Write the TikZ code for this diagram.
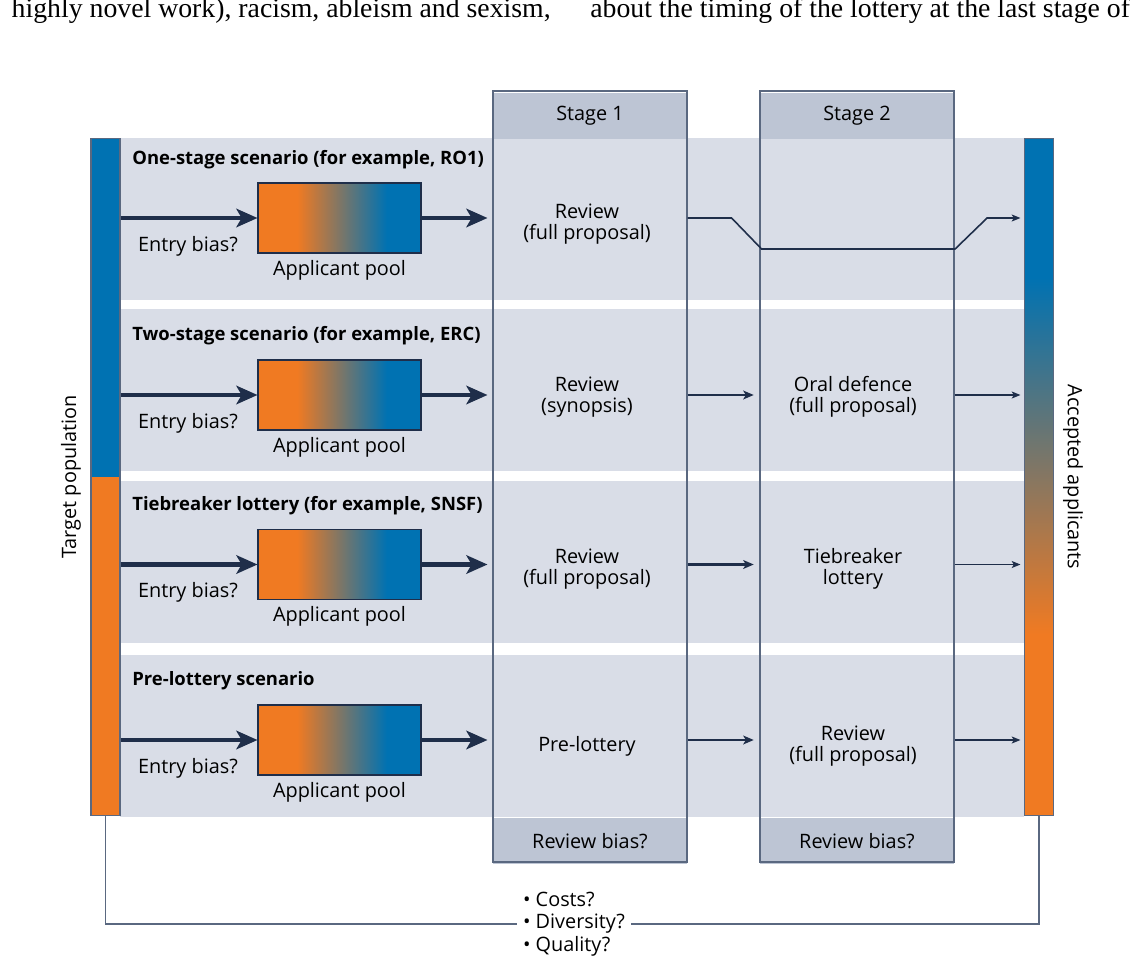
\documentclass[tikz,border=0pt]{standalone}
\usepackage{fontspec}
\setmainfont{Open Sans}
\newfontfamily\paperfont{Liberation Serif}
\usepackage{tikz}
\usetikzlibrary{arrows.meta}
\usetikzlibrary{positioning}

\definecolor{popblue}{RGB}{0,114,178}
\definecolor{poporange}{RGB}{240,122,34}
\definecolor{rowgrey}{RGB}{217,221,231}
\definecolor{headgrey}{RGB}{189,197,212}
\definecolor{navy}{RGB}{31,46,74}
\definecolor{edgegrey}{RGB}{90,104,128}

\pgfdeclarehorizontalshading{poolshade}{100bp}{color(0bp)=(poporange); color(37bp)=(poporange); color(64.5bp)=(popblue); color(100bp)=(popblue)}
\pgfdeclareverticalshading{acceptshade}{100bp}{color(0bp)=(poporange); color(38.4bp)=(poporange); color(64.7bp)=(popblue); color(100bp)=(popblue)}

\tikzset{
  txt/.style={font=\fontsize{11.3}{12}\selectfont, inner sep=0pt, text=black},
  title/.style={txt, font=\fontsize{10.5}{13}\selectfont\bfseries, anchor=west},
  pool/.style={draw=navy, line width=0.6pt, shade, shading=poolshade, minimum width=3.26cm, minimum height=1.4cm, inner sep=0pt},
  bar/.style={draw=edgegrey, line width=0.6pt, minimum width=0.58cm, minimum height=13.56cm, inner sep=0pt},
  column/.style={draw=edgegrey, line width=0.7pt, minimum width=3.88cm, minimum height=15.42cm, inner sep=0pt},
  stagehead/.style={txt, fill=headgrey, minimum width=3.88cm, minimum height=0.91cm},
  fatarrow/.style={navy, line width=2.6pt, -{Stealth[length=12pt,width=10.5pt,inset=3pt]}},
  midarrow/.style={navy, line width=1.2pt, -{Stealth[length=6pt,width=5pt,inset=1.5pt]}},
  thinarrow/.style={navy, line width=0.7pt, -{Stealth[length=5pt,width=4pt,inset=1.2pt]}},
}

\begin{document}
\begin{tikzpicture}[x=0.02cm,y=-0.02cm]
\useasboundingbox (0,0) rectangle (1130,967);
% cut-off line of the article above the figure
\begin{scope}
\clip (0,0) rectangle (1130,967);
\node[anchor=base east, inner sep=0pt, font=\paperfont\fontsize{15.8}{18}\selectfont] (papertxtl) at (551,17) {highly novel work), racism, ableism and sexism,};
\node[anchor=base west, inner sep=0pt, font=\paperfont\fontsize{15.8}{18}\selectfont] (papertxtr) at (590,17) {about the timing of the lottery at the last stage of t};
\end{scope}
% scenario bands
\foreach \top in {138,309,481,655} \fill[rowgrey] (120,\top) rectangle (1024,\top+162);
% stage headers and footers
\node[stagehead] (head1) at (590,116) {Stage 1};
\node[stagehead] (head2) at (857,116) {Stage 2};
\node[stagehead] (foot1) at (590,841) {Review bias?};
\node[stagehead] (foot2) at (857,841) {Review bias?};
\node[column] (stage1) at (590,476.5) {};
\node[column] (stage2) at (857,476.5) {};
% population bars
\node[bar, fill=popblue, path picture={\fill[poporange] (path picture bounding box.west) rectangle (path picture bounding box.south east);}] (target) at (105.5,477) {};
\node[bar, shade, shading=acceptshade] (accepted) at (1039,477) {};
\node[txt, rotate=90] (tgtlabel) at (71,477) {Target population};
\node[txt, rotate=-90] (acclabel) at (1073,477) {Accepted applicants};
% one row per scenario
\foreach \r/\y/\ty/\ya/\yb/\ttl/\sa/\sb in {1/218/159.5/224.5/224.5/{One-stage scenario (for example, RO1)}/{Review\\(full proposal)}/{},
    2/395/335.5/397/396.5/{Two-stage scenario (for example, ERC)}/{Review\\(synopsis)}/{Oral defence\\(full proposal)},
    3/564.5/505.5/569.5/569/{Tiebreaker lottery (for example, SNSF)}/{Review\\(full proposal)}/{Tiebreaker\\lottery},
    4/740/680.5/746/746/{Pre-lottery scenario}/{Pre-lottery}/{Review\\(full proposal)}} {
  \node[title] (title\r) at (132,\ty) {\ttl};
  \node[pool] (pool\r) at (339.5,\y) {};
  \node[txt, below=3.5pt of pool\r] (poollbl\r) {Applicant pool};
  \node[txt] (entry\r) at (188,\y+28) {Entry bias?};
  \node[txt, align=center] (sa\r) at (587,\ya) {\sa};
  \node[txt, align=center] (sb\r) at (853,\yb) {\sb};
  \draw[fatarrow] (target.east |- pool\r.west) -- (pool\r.west);
  \draw[fatarrow, shorten >=2.8pt] (pool\r.east) -- (stage1.west |- pool\r.east);
}
\draw[navy, line width=0.9pt, -{Stealth[length=5pt,width=4pt,inset=1.2pt]}, shorten >=2pt] (stage1.east |- pool1.east) -- ++(44,0) -- ++(30,31) -- ++(193.5,0) -- ++(32,-31) -- (accepted.west |- pool1.east);
\foreach \r in {2,3,4} {
  \draw[midarrow, shorten >=3.2pt] (stage1.east |- pool\r.east) -- (stage2.west |- pool\r.east);
  \draw[thinarrow, shorten >=2pt] (stage2.east |- pool\r.east) -- (accepted.west |- pool\r.east);
}
% outcomes
\node[txt, font=\fontsize{11.3}{12.75}\selectfont, align=left, fill=white, inner xsep=3.5pt, inner ysep=0pt] (outcomes) at (574,924) {• Costs?\\• Diversity?\\• Quality?};
\draw[edgegrey, line width=0.6pt] (target.south) |- (outcomes.west);
\draw[edgegrey, line width=0.6pt] (outcomes.east) -| (accepted.south);
\end{tikzpicture}
\end{document}
